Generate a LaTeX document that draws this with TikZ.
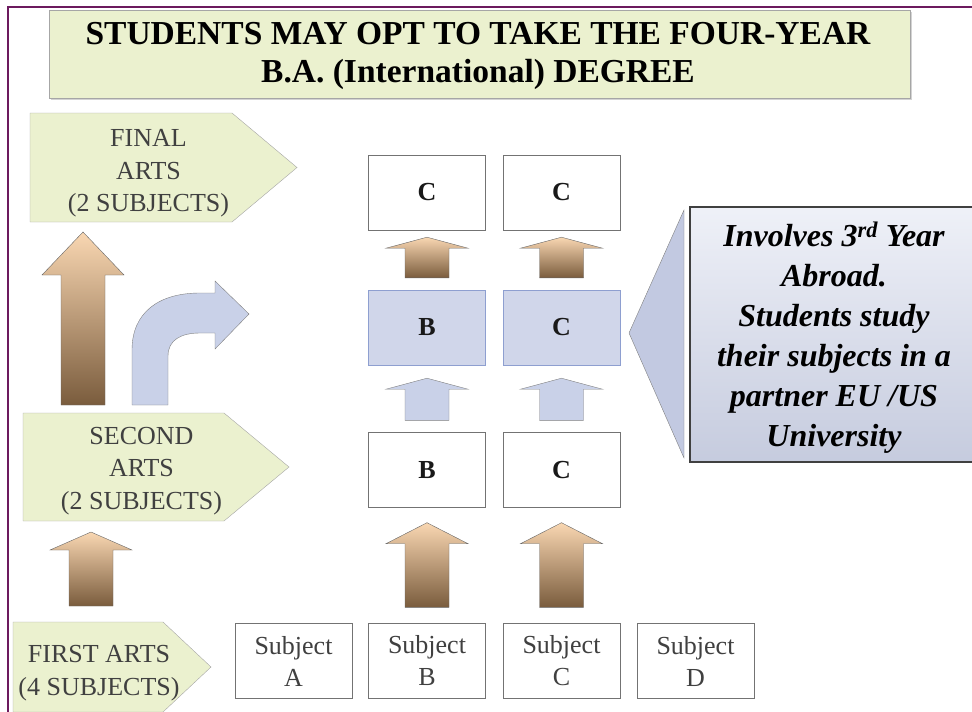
\documentclass[tikz,border=0pt]{standalone}
\usepackage{fontspec}
\setmainfont{Liberation Serif}
\usetikzlibrary{calc,shadows}
\definecolor{frame}{HTML}{6C1A5E}
\definecolor{lime}{HTML}{EBF1CF}
\definecolor{peach}{HTML}{F9D7B2}
\definecolor{umber}{HTML}{7A5C3D}
\definecolor{steel}{HTML}{C9D1E8}
\definecolor{lav}{HTML}{D0D6EA}
\definecolor{wedge}{HTML}{C2C9E1}
\definecolor{rim}{HTML}{8E9FD0}
% block arrow pointing up, from #2 to #3, head length #4
\newcommand{\blockup}[4]{%
  \path[#1] let \p1=(#2), \p2=(#3) in
    (\x1-22pt,\y1) -- (\x1-22pt,\y2-#4pt) -- (\x1-41pt,\y2-#4pt) -- (\x1,\y2) --
    (\x1+41pt,\y2-#4pt) -- (\x1+22pt,\y2-#4pt) -- (\x1+22pt,\y1) -- cycle;}
\begin{document}
\begin{tikzpicture}[x     = 1pt,
                    y     = -1pt,
                    tanarrow/.style  = {top color=peach,bottom color=umber,draw=gray!80!black,thin},
                    bluearrow/.style = {fill=steel,draw=gray,thin},
                    tag/.style       = {fill=lime,draw=gray!70,thin},
                    tagtext/.style   = {align=center,text=black!75,
                                        font=\fontsize{26}{32.5}\selectfont},
                    subj/.style      = {draw=gray!90!black,thin,fill=white,minimum width=117pt,
                                        minimum height=75pt,align=center,text=black!75,
                                        font=\fontsize{26}{32}\selectfont},
                    grade/.style     = {subj,text=black!90,font=\fontsize{26}{32}\selectfont\bfseries},
                    abroadbox/.style = {grade,fill=lav,draw=rim}]
\useasboundingbox (0,0) rectangle (972,712);
\clip (0,0) rectangle (972,712);
% frame
\draw[frame,line width=2pt] (8,712) -- (8,7) -- (972,7);
% title
\node[tag,drop shadow={shadow xshift=1.5pt,shadow yshift=-1.5pt,opacity=.35},
      minimum width=861pt,minimum height=88pt] (title) at (479.5,54) {};
\node[align=center,font=\fontsize{33.5}{38}\selectfont\bfseries] (titletext) at (478,56)
  {STUDENTS MAY OPT TO TAKE THE FOUR-YEAR\\B.A. (International) DEGREE};
% year tags
\path[tag] (30,113) -- (232,113) -- (297,167.5) -- (232,222) -- (30,222) -- cycle;
\path[tag] (23,413) -- (224,413) -- (289,467) -- (224,521) -- (23,521) -- cycle;
\path[tag] (13,622) -- (163,622) -- (211,667) -- (163,712) -- (13,712) -- cycle;
\node[tagtext] (final)  at (148.5,173.5) {FINAL\\ARTS\\(2 SUBJECTS)};
\node[tagtext] (second) at (141.5,471)   {SECOND\\ARTS\\(2 SUBJECTS)};
\node[tagtext] (first)  at (99,673)      {FIRST ARTS\\(4 SUBJECTS)};
% subjects
\node[subj] (sA) at (293.5,661) {Subject\\A};
\node[subj] (sB) at (427,661)   {Subject\\B};
\node[subj] (sC) at (561.5,661) {Subject\\C};
\node[subj] (sD) at (695.5,661) {Subject\\D};
% second year
\node[grade] (bB) at (427,470)   {B};
\node[grade] (bC) at (561.5,470) {C};
% third year abroad
\node[abroadbox] (mB) at (427,327.5)   {B};
\node[abroadbox] (mC) at (561.5,327.5) {C};
% final year
\node[grade] (tB) at (427,192.5)   {C};
\node[grade] (tC) at (561.5,192.5) {C};
% arrows
\blockup{tanarrow}{$(sB.north)+(0,-16)$}{$(bB.south)+(0,15)$}{21}
\blockup{tanarrow}{$(sC.north)+(0,-16)$}{$(bC.south)+(0,15)$}{21}
\blockup{bluearrow}{$(bB.north)+(0,-12)$}{$(mB.south)+(0,13)$}{11}
\blockup{bluearrow}{$(bC.north)+(0,-12)$}{$(mC.south)+(0,13)$}{11}
\blockup{tanarrow}{$(mB.north)+(0,-12)$}{$(tB.south)+(0,7)$}{11}
\blockup{tanarrow}{$(mC.north)+(0,-12)$}{$(tC.south)+(0,7)$}{11}
\blockup{tanarrow}{91,606}{91,532}{18}
\blockup{tanarrow}{83,405}{83,232}{43}
% bent arrow
\path[bluearrow] (132,405) -- (132,350) .. controls (132,313) and (158,293) .. (200,293)
  -- (215,293) -- (215,281) -- (249,314) -- (215,349) -- (215,333) -- (200,333)
  .. controls (181,333) and (168,340) .. (168,356) -- (168,405) -- cycle;
% callout
\path[fill=wedge,draw=gray,thin] (684,210) -- (629,333) -- (684,458) -- cycle;
\node[top color=lav!35,bottom color=lav!95!black,draw=black!75,line width=1.8pt,
      minimum width=292pt,minimum height=255pt,align=center,
      font=\fontsize{32}{40}\selectfont\bfseries\itshape] (abroad) at (836,334.5) {};
\node[align=center,font=\fontsize{32}{40}\selectfont\bfseries\itshape] (abroadtext) at (834,337.5)
  {Involves 3\textsuperscript{rd} Year\\Abroad.\\Students study\\their subjects in a\\partner EU /US\\University};
\end{tikzpicture}
\end{document}
